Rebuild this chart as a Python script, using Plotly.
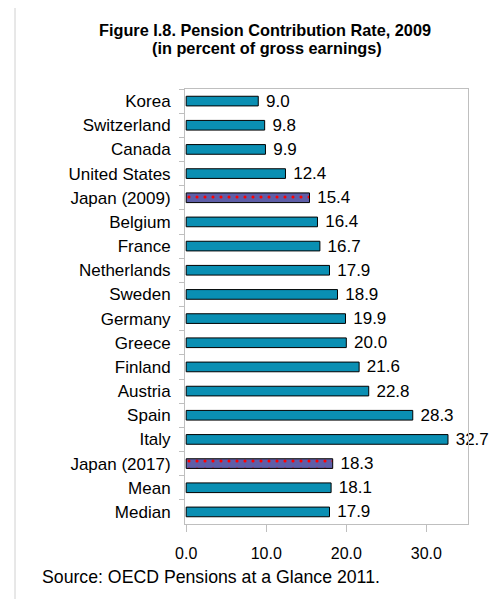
import plotly.graph_objects as go

categories = ["Korea", "Switzerland", "Canada", "United States", "Japan (2009)",
              "Belgium", "France", "Netherlands", "Sweden", "Germany", "Greece",
              "Finland", "Austria", "Spain", "Italy", "Japan (2017)", "Mean", "Median"]
values = [9.0, 9.8, 9.9, 12.4, 15.4, 16.4, 16.7, 17.9, 18.9, 19.9, 20.0,
          21.6, 22.8, 28.3, 32.7, 18.3, 18.1, 17.9]
highlight = ["Japan (2009)", "Japan (2017)"]
x_ticks = [0, 10, 20, 30]
x_tick_labels = ["0.0", "10.0", "20.0", "30.0"]

TEAL = "#0A8FB3"
JAPAN = "#5E5EA8"
DOT = "#FF0000"

FONT = "Liberation Sans, Arial, sans-serif"

OFF = 8  # default page body margin
W, H = 503 - OFF, 599 - OFF
L, R, T, B = 185 - OFF, 35, 89 - OFF, 75
pw, ph = W - L - R, H - T - B

def px(xs):
    return (xs - OFF - L) / pw

def py(ys):
    return (H - B - (ys - OFF)) / ph

base_c = [c for c in categories if c not in highlight]
base_v = [v for c, v in zip(categories, values) if c not in highlight]
hl_c = [c for c in categories if c in highlight]
hl_v = [v for c, v in zip(categories, values) if c in highlight]

common = dict(orientation="h", width=0.4, textposition="outside",
              textfont=dict(family=FONT, size=17, color="black"),
              constraintext="none", cliponaxis=False, hoverinfo="skip")

fig = go.Figure()
fig.add_trace(go.Bar(
    y=base_c, x=base_v, text=[f" {v:.1f}" for v in base_v],
    marker=dict(color=TEAL, line=dict(color="black", width=1)), **common))
fig.add_trace(go.Bar(
    y=hl_c, x=hl_v, text=[f" {v:.1f}" for v in hl_v],
    marker=dict(color=JAPAN, line=dict(color="black", width=1),
                pattern=dict(shape=".", fillmode="replace", fgcolor=DOT, bgcolor=JAPAN,
                             fgopacity=1, size=8, solidity=0.12)), **common))

fig.update_layout(
    barmode="overlay",
    width=W, height=H, margin=dict(l=L, r=R, t=T, b=B),
    paper_bgcolor="white", plot_bgcolor="white", showlegend=False,
    font=dict(family=FONT, color="black"),
    xaxis=dict(range=[-0.15, 35.2], tickvals=x_ticks, ticktext=x_tick_labels,
               showgrid=False, zeroline=False, showline=True, linecolor="#BFBFBF",
               linewidth=1, mirror=True, ticks="outside", ticklen=7, tickcolor="#BFBFBF",
               ticklabelstandoff=8,
               tickfont=dict(family=FONT, size=16, color="black")),
    yaxis=dict(type="category", categoryorder="array", categoryarray=categories,
               range=[17.5, -0.5],
               showgrid=False, zeroline=False, showline=True, linecolor="#BFBFBF",
               linewidth=1, mirror=True, ticks="outside", ticklen=5, tickcolor="#BFBFBF",
               tickson="boundaries", ticklabelstandoff=10,
               tickfont=dict(family=FONT, size=17, color="black")),
    annotations=[
        dict(text="<b>Figure I.8. Pension Contribution Rate, 2009</b>", xref="paper", yref="paper",
             x=px(265), y=py(30), xanchor="center", yanchor="middle", showarrow=False,
             font=dict(family=FONT, size=16.3, color="black")),
        dict(text="<b>(in percent of gross earnings)</b>", xref="paper", yref="paper",
             x=px(267), y=py(48), xanchor="center", yanchor="middle", showarrow=False,
             font=dict(family=FONT, size=16.3, color="black")),
        dict(text="Source: OECD Pensions at a Glance 2011.", xref="paper", yref="paper",
             x=px(40), y=py(577), xanchor="left", yanchor="middle", showarrow=False,
             font=dict(family=FONT, size=17.7, color="black")),
    ],
    shapes=[
        dict(type="line", xref="paper", yref="paper", x0=px(15), x1=px(15),
             y0=py(5), y1=py(620), line=dict(color="#D0D0D0", width=1)),
        dict(type="line", xref="paper", yref="paper", x0=px(15), x1=px(520),
             y0=py(5), y1=py(5), line=dict(color="#D0D0D0", width=1)),
    ],
)

fig.write_html("out.html")
